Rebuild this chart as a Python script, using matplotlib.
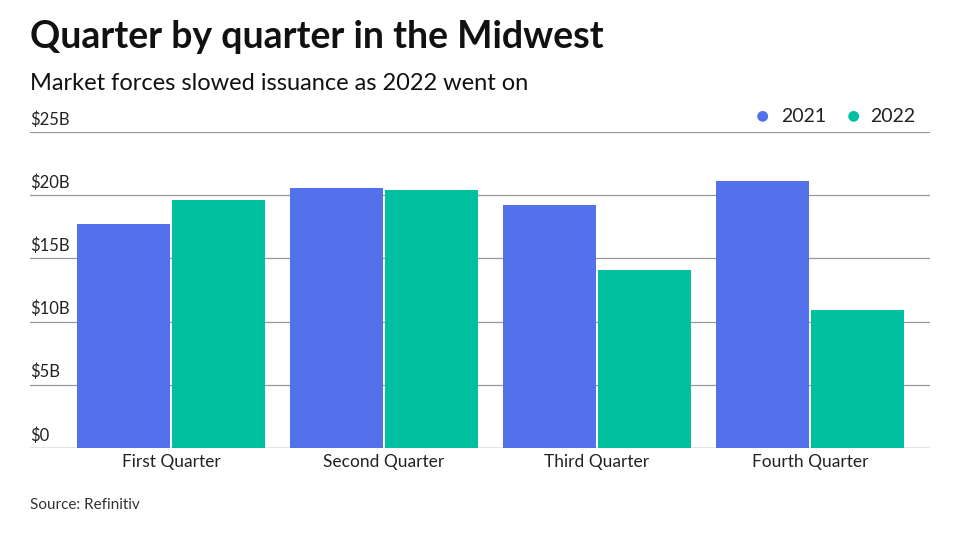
import matplotlib
matplotlib.use("Agg")
import matplotlib.pyplot as plt
import numpy as np

categories = ["First Quarter", "Second Quarter", "Third Quarter", "Fourth Quarter"]
v2021 = [17.7, 20.6, 19.2, 21.1]
v2022 = [19.6, 20.4, 14.1, 10.9]
yticks = [0, 5, 10, 15, 20, 25]
ylabels = ["$0", "$5B", "$10B", "$15B", "$20B", "$25B"]

plt.rcParams['font.family'] = ['Lato', 'DejaVu Sans']
fig = plt.figure(figsize=(9.6, 5.4), dpi=100)
ax = fig.add_axes([30/960, 1-448/540, 900/960, 316/540])
x = np.arange(len(categories))
w = 0.437
ax.bar(x - w/2 - 0.005, v2021, w, color="#5271eb", zorder=3)
ax.bar(x + w/2 + 0.005, v2022, w, color="#00c0a0", zorder=3)
ax.set_xlim(-0.662, 3.563)
ax.set_ylim(0, 25)
for t, l in zip(yticks, ylabels):
    ax.axhline(t, color="#999999" if t else "#333333", lw=0.9, zorder=1)
    ax.text(-0.662, t + 0.35, l, fontsize=12, color="#222222", va="bottom", ha="left")
ax.set_yticks([])
ax.set_xticks(x)
ax.set_xticklabels(categories, fontsize=12.5, color="#222222")
ax.tick_params(axis='x', length=0, pad=4)
for s in ax.spines.values():
    s.set_visible(False)

fig.text(30/960, 1-37/540, "Quarter by quarter in the Midwest", fontsize=27, fontweight="bold", va="center", color="#111111")
fig.text(30/960, 1-84/540, "Market forces slowed issuance as 2022 went on", fontsize=17, va="center", color="#111111")
fig.text(30/960, 1-505/540, "Source: Refinitiv", fontsize=11, va="center", color="#333333")
# legend
fig.text(762/960, 1-116/540, "●", fontsize=16, color="#5271eb", va="center", ha="center")
fig.text(781/960, 1-116/540, "2021", fontsize=14, color="#222222", va="center")
fig.text(853/960, 1-116/540, "●", fontsize=16, color="#00c0a0", va="center", ha="center")
fig.text(870/960, 1-116/540, "2022", fontsize=14, color="#222222", va="center")
fig.savefig("out.png", dpi=100)
